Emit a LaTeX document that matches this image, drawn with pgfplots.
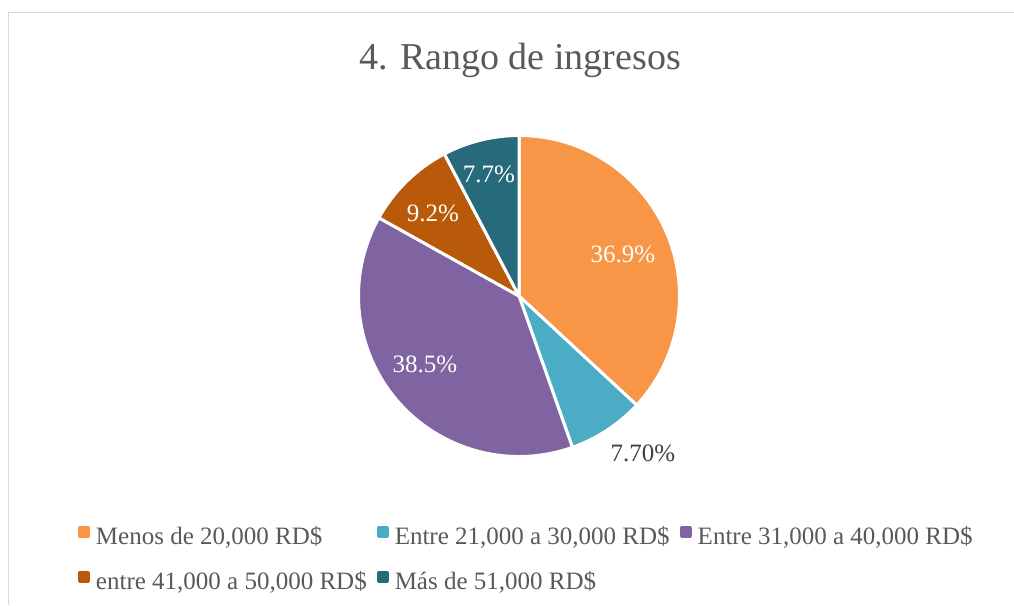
\documentclass[border=0pt]{standalone}
\usepackage{pgfplots}
\pgfplotsset{compat=1.18}
\usepackage{fontspec}
\setmainfont{Liberation Serif}
\definecolor{cOr}{HTML}{F79646}
\definecolor{cBl}{HTML}{4BACC6}
\definecolor{cPu}{HTML}{8064A2}
\definecolor{cBr}{HTML}{B85A0A}
\definecolor{cTe}{HTML}{276A7C}
\definecolor{cTx}{HTML}{595959}
\definecolor{cTd}{HTML}{404040}
\definecolor{cBd}{HTML}{D9D9D9}
% wedge: #1 cumulative percent before, #2 percent, #3 colour
\newcommand\piewedge[3]{%
  \addplot[fill=#3, draw=white, line width=3pt, line join=round,
    legend image code/.code={\fill[#3] (0pt,3pt) rectangle (9pt,12pt);}]
    coordinates {(0,0) ({1.0094*cos(90-3.6*#1)},{1.0094*sin(90-3.6*#1)})}
    arc[start angle={90-3.6*#1}, end angle={90-3.6*(#1+#2)}, radius=160.5pt] -- cycle;}
\begin{document}
\begin{tikzpicture}[x=1pt,y=1pt]
\path[use as bounding box] (0,0) rectangle (1014,605);
\draw[cBd, line width=1.5pt] (8.5,0) -- (8.5,592.5) -- (1014,592.5);
\begin{axis}[at={(0,0)}, anchor=south west, x=159pt, y=159pt,
  xmin=-3.26415, xmax=3.11321, ymin=-1.94340, ymax=1.86164,
  hide axis, clip=false,
  legend columns=3,
  legend cell align=left,
  legend style={at={(axis description cs:0.0769,0.1306)}, anchor=north west,
    draw=none, fill=none, inner sep=0pt, outer sep=0pt,
    nodes={inner sep=0pt, text height=17pt, text depth=6pt, text=cTx,
      font=\fontsize{25}{30}\selectfont},
    row sep=20pt,
    /tikz/every odd column/.append style={column sep=6pt},
    /tikz/every even column/.append style={column sep=10pt}},
]
\piewedge{0}{36.9}{cOr}
\addlegendentry{Menos de 20,000 RD\$}
\piewedge{36.9}{7.7}{cBl}
\addlegendentry{Entre 21,000 a 30,000 RD\$}
\piewedge{44.6}{38.5}{cPu}
\addlegendentry{Entre 31,000 a 40,000 RD\$}
\piewedge{83.1}{9.2}{cBr}
\addlegendentry{entre 41,000 a 50,000 RD\$}
\piewedge{92.3}{7.7}{cTe}
\addlegendentry{Más de 51,000 RD\$}
\node[text=white, font=\fontsize{25}{30}\selectfont] at (axis cs:0.654,0.264) {36.9\%};
\node[text=cTd, font=\fontsize{25}{30}\selectfont] at (axis cs:0.780,-0.987) {7.70\%};
\node[text=white, font=\fontsize{25}{30}\selectfont] at (axis cs:-0.591,-0.428) {38.5\%};
\node[text=white, font=\fontsize{25}{30}\selectfont] at (axis cs:-0.541,0.522) {9.2\%};
\node[text=white, font=\fontsize{25}{30}\selectfont] at (axis cs:-0.189,0.767) {7.7\%};
\node[text=cTx, font=\fontsize{38}{44}\selectfont, anchor=base] at (axis cs:0.0063,1.4214) {4. Rango de ingresos};
\end{axis}
\end{tikzpicture}
\end{document}
